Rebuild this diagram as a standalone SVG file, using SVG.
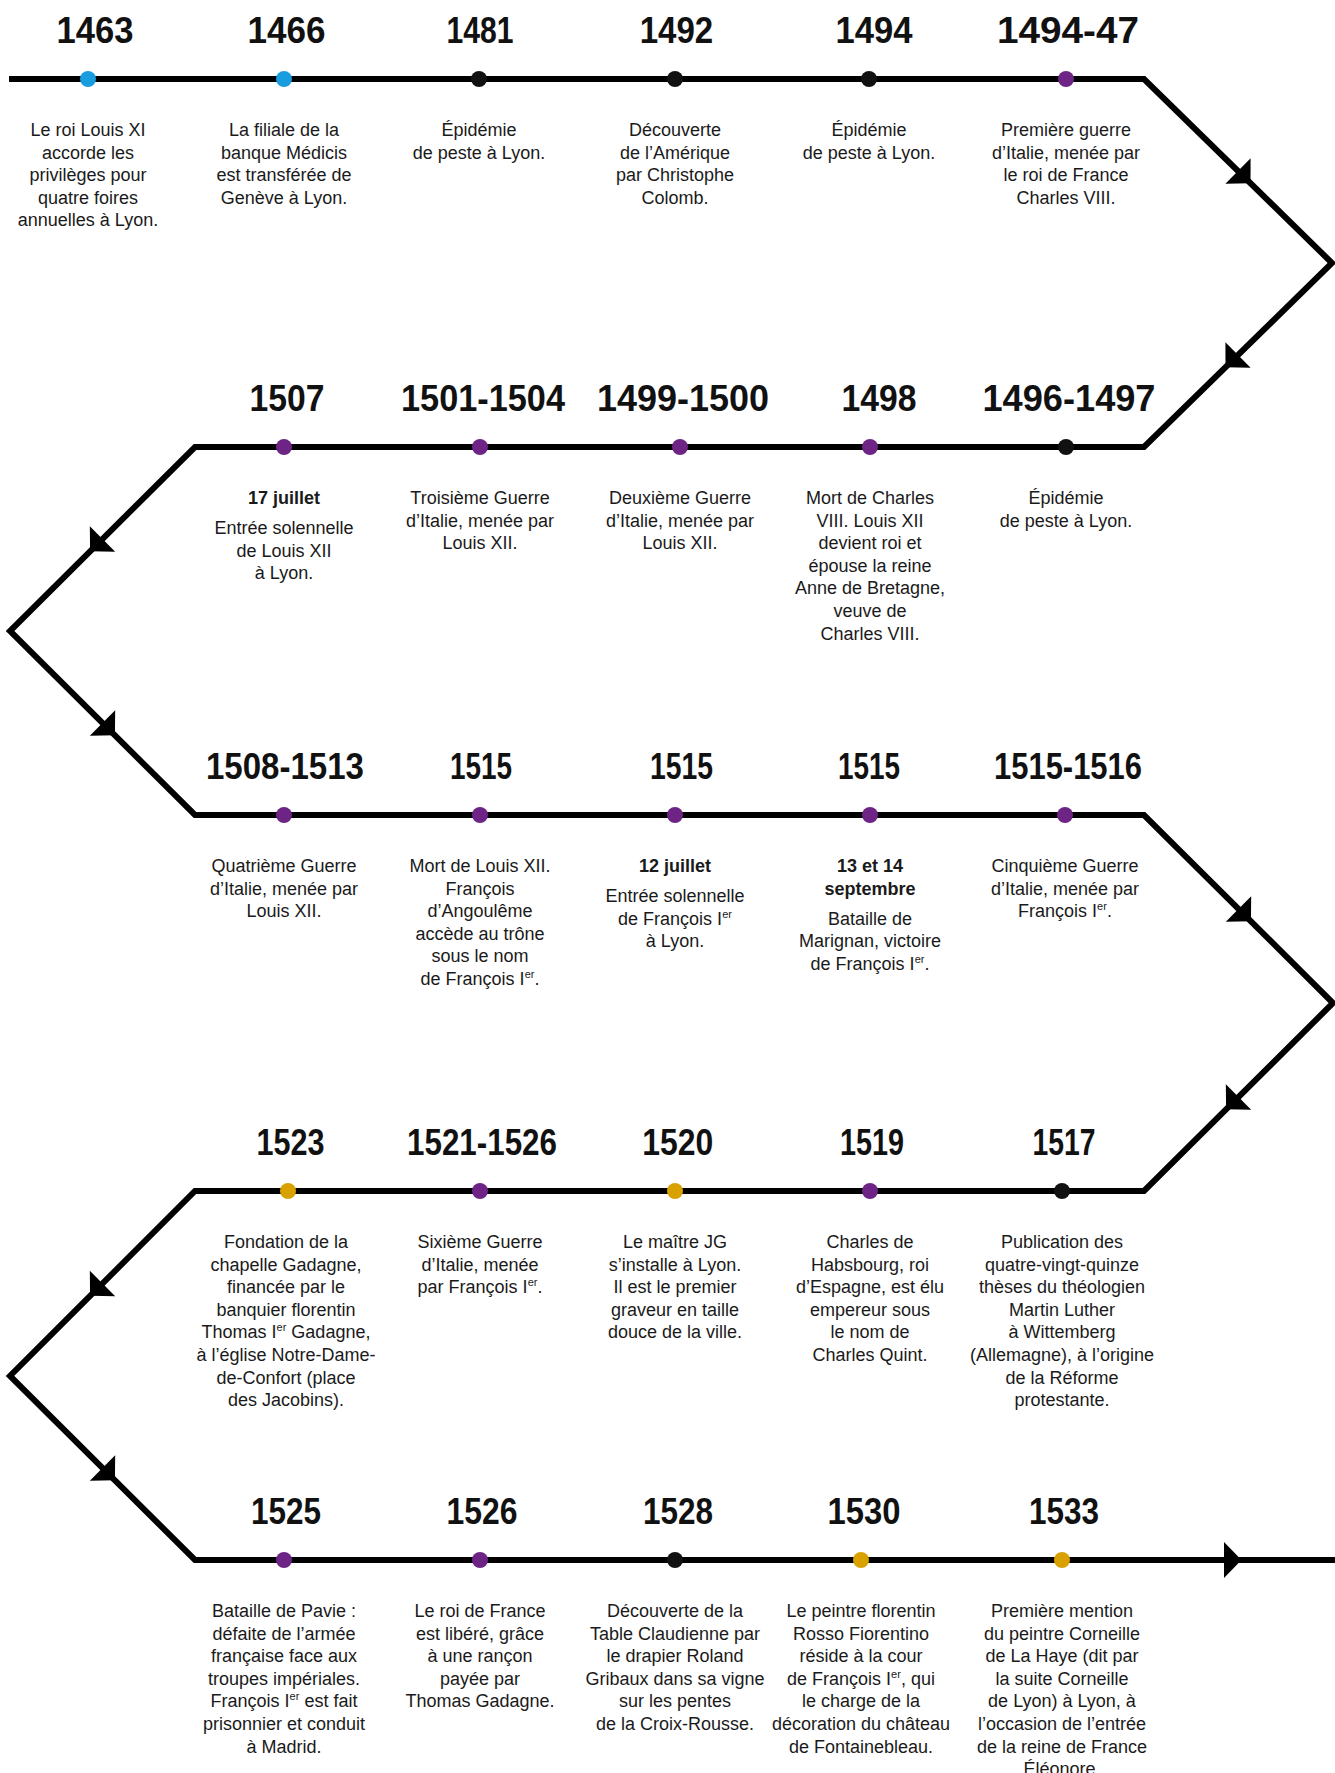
<svg xmlns="http://www.w3.org/2000/svg" xmlns:xlink="http://www.w3.org/1999/xlink" width="1335" height="1773" viewBox="0 0 1335 1773">
<defs>
<style>
.yr{font-family:"Liberation Sans",Arial,sans-serif;font-weight:bold;font-size:37.5px;text-anchor:middle;fill:#111}
.tx{font-family:"Liberation Sans",Arial,sans-serif;font-size:18px;text-anchor:middle;fill:#1a1a1a}
.b{font-weight:bold}
.sup{font-size:11px}
.line{fill:none;stroke:#000;stroke-width:6;stroke-linejoin:miter}
.blue{fill:#1a9ddf}
.purple{fill:#6d2484}
.gold{fill:#d9a100}
.black{fill:#111}
.ah{fill:#000}
</style>
<path id="ah" d="M0,-18 L17.5,0 L0,18 Z"/>
</defs>
<rect width="1335" height="1773" fill="#fff"/>

<g id="connectors">
<path class="line" d="M9,79 H1144 L1332,263 L1144,447 H195 L10,631 L195,815 H1144 L1333,1003 L1144,1191 H195 L10,1376 L195,1560 H1335"/>
<use xlink:href="#ah" class="ah" transform="translate(1238,171) rotate(44.4)"/>
<use xlink:href="#ah" class="ah" transform="translate(1238,355) rotate(135.6)"/>
<use xlink:href="#ah" class="ah" transform="translate(102.5,539) rotate(135.2)"/>
<use xlink:href="#ah" class="ah" transform="translate(102.5,723) rotate(44.8)"/>
<use xlink:href="#ah" class="ah" transform="translate(1238.5,909) rotate(44.8)"/>
<use xlink:href="#ah" class="ah" transform="translate(1238.5,1097) rotate(135.2)"/>
<use xlink:href="#ah" class="ah" transform="translate(102.5,1283.5) rotate(135.2)"/>
<use xlink:href="#ah" class="ah" transform="translate(102.5,1468) rotate(44.8)"/>
<use xlink:href="#ah" class="ah" transform="translate(1224,1560)"/>
</g>

<!-- Row 1 -->
<g id="n1463">
<circle class="blue" cx="88" cy="79" r="8"/>
<text class="yr" x="95" y="43" textLength="77" lengthAdjust="spacingAndGlyphs">1463</text>
<text class="tx" x="88" y="136">Le roi Louis XI</text>
<text class="tx" x="88" y="158.6">accorde les</text>
<text class="tx" x="88" y="181.2">privilèges pour</text>
<text class="tx" x="88" y="203.8">quatre foires</text>
<text class="tx" x="88" y="226.4">annuelles à Lyon.</text>
</g>
<g id="n1466">
<circle class="blue" cx="284" cy="79" r="8"/>
<text class="yr" x="286.6" y="43" textLength="78" lengthAdjust="spacingAndGlyphs">1466</text>
<text class="tx" x="284" y="136">La filiale de la</text>
<text class="tx" x="284" y="158.6">banque Médicis</text>
<text class="tx" x="284" y="181.2">est transférée de</text>
<text class="tx" x="284" y="203.8">Genève à Lyon.</text>
</g>
<g id="n1481">
<circle class="black" cx="479" cy="79" r="8"/>
<text class="yr" x="480" y="43" textLength="67" lengthAdjust="spacingAndGlyphs">1481</text>
<text class="tx" x="479" y="136">Épidémie</text>
<text class="tx" x="479" y="158.6">de peste à Lyon.</text>
</g>
<g id="n1492">
<circle class="black" cx="675" cy="79" r="8"/>
<text class="yr" x="676.5" y="43" textLength="73.5" lengthAdjust="spacingAndGlyphs">1492</text>
<text class="tx" x="675" y="136">Découverte</text>
<text class="tx" x="675" y="158.6">de l’Amérique</text>
<text class="tx" x="675" y="181.2">par Christophe</text>
<text class="tx" x="675" y="203.8">Colomb.</text>
</g>
<g id="n1494">
<circle class="black" cx="869" cy="79" r="8"/>
<text class="yr" x="874" y="43" textLength="77" lengthAdjust="spacingAndGlyphs">1494</text>
<text class="tx" x="869" y="136">Épidémie</text>
<text class="tx" x="869" y="158.6">de peste à Lyon.</text>
</g>
<g id="n1494-47">
<circle class="purple" cx="1066" cy="79" r="8"/>
<text class="yr" x="1068" y="43" textLength="142" lengthAdjust="spacingAndGlyphs">1494-47</text>
<text class="tx" x="1066" y="136">Première guerre</text>
<text class="tx" x="1066" y="158.6">d’Italie, menée par</text>
<text class="tx" x="1066" y="181.2">le roi de France</text>
<text class="tx" x="1066" y="203.8">Charles VIII.</text>
</g>

<!-- Row 2 -->
<g id="n1507">
<circle class="purple" cx="284" cy="447" r="8"/>
<text class="yr" x="287" y="411" textLength="75" lengthAdjust="spacingAndGlyphs">1507</text>
<text class="tx b" x="284" y="504">17 juillet</text>
<text class="tx" x="284" y="534">Entrée solennelle</text>
<text class="tx" x="284" y="556.6">de Louis XII</text>
<text class="tx" x="284" y="579.2">à Lyon.</text>
</g>
<g id="n1501-1504">
<circle class="purple" cx="480" cy="447" r="8"/>
<text class="yr" x="483" y="411" textLength="164" lengthAdjust="spacingAndGlyphs">1501-1504</text>
<text class="tx" x="480" y="504">Troisième Guerre</text>
<text class="tx" x="480" y="526.6">d’Italie, menée par</text>
<text class="tx" x="480" y="549.2">Louis XII.</text>
</g>
<g id="n1499-1500">
<circle class="purple" cx="680" cy="447" r="8"/>
<text class="yr" x="683" y="411" textLength="172" lengthAdjust="spacingAndGlyphs">1499-1500</text>
<text class="tx" x="680" y="504">Deuxième Guerre</text>
<text class="tx" x="680" y="526.6">d’Italie, menée par</text>
<text class="tx" x="680" y="549.2">Louis XII.</text>
</g>
<g id="n1498">
<circle class="purple" cx="870" cy="447" r="8"/>
<text class="yr" x="879" y="411" textLength="75" lengthAdjust="spacingAndGlyphs">1498</text>
<text class="tx" x="870" y="504">Mort de Charles</text>
<text class="tx" x="870" y="526.6">VIII. Louis XII</text>
<text class="tx" x="870" y="549.2">devient roi et</text>
<text class="tx" x="870" y="571.8">épouse la reine</text>
<text class="tx" x="870" y="594.4">Anne de Bretagne,</text>
<text class="tx" x="870" y="617">veuve de</text>
<text class="tx" x="870" y="639.6">Charles VIII.</text>
</g>
<g id="n1496-1497">
<circle class="black" cx="1066" cy="447" r="8"/>
<text class="yr" x="1069" y="411" textLength="173" lengthAdjust="spacingAndGlyphs">1496-1497</text>
<text class="tx" x="1066" y="504">Épidémie</text>
<text class="tx" x="1066" y="526.6">de peste à Lyon.</text>
</g>

<!-- Row 3 -->
<g id="n1508-1513">
<circle class="purple" cx="284" cy="815" r="8"/>
<text class="yr" x="285" y="779" textLength="158" lengthAdjust="spacingAndGlyphs">1508-1513</text>
<text class="tx" x="284" y="872">Quatrième Guerre</text>
<text class="tx" x="284" y="894.6">d’Italie, menée par</text>
<text class="tx" x="284" y="917.2">Louis XII.</text>
</g>
<g id="n1515a">
<circle class="purple" cx="480" cy="815" r="8"/>
<text class="yr" x="481" y="779" textLength="62" lengthAdjust="spacingAndGlyphs">1515</text>
<text class="tx" x="480" y="872">Mort de Louis XII.</text>
<text class="tx" x="480" y="894.6">François</text>
<text class="tx" x="480" y="917.2">d’Angoulême</text>
<text class="tx" x="480" y="939.8">accède au trône</text>
<text class="tx" x="480" y="962.4">sous le nom</text>
<text class="tx" x="480" y="985">de François I<tspan class="sup" dy="-7">er</tspan><tspan dy="7">.</tspan></text>
</g>
<g id="n1515b">
<circle class="purple" cx="675" cy="815" r="8"/>
<text class="yr" x="681.6" y="779" textLength="63" lengthAdjust="spacingAndGlyphs">1515</text>
<text class="tx b" x="675" y="872">12 juillet</text>
<text class="tx" x="675" y="902">Entrée solennelle</text>
<text class="tx" x="675" y="924.6">de François I<tspan class="sup" dy="-7">er</tspan></text>
<text class="tx" x="675" y="947.2">à Lyon.</text>
</g>
<g id="n1515c">
<circle class="purple" cx="870" cy="815" r="8"/>
<text class="yr" x="869" y="779" textLength="62" lengthAdjust="spacingAndGlyphs">1515</text>
<text class="tx b" x="870" y="872">13 et 14</text>
<text class="tx b" x="870" y="894.6">septembre</text>
<text class="tx" x="870" y="924.6">Bataille de</text>
<text class="tx" x="870" y="947.2">Marignan, victoire</text>
<text class="tx" x="870" y="969.8">de François I<tspan class="sup" dy="-7">er</tspan><tspan dy="7">.</tspan></text>
</g>
<g id="n1515-1516">
<circle class="purple" cx="1065" cy="815" r="8"/>
<text class="yr" x="1068" y="779" textLength="148" lengthAdjust="spacingAndGlyphs">1515-1516</text>
<text class="tx" x="1065" y="872">Cinquième Guerre</text>
<text class="tx" x="1065" y="894.6">d’Italie, menée par</text>
<text class="tx" x="1065" y="917.2">François I<tspan class="sup" dy="-7">er</tspan><tspan dy="7">.</tspan></text>
</g>

<!-- Row 4 -->
<g id="n1523">
<circle class="gold" cx="288" cy="1191" r="8"/>
<text class="yr" x="290.5" y="1155" textLength="68" lengthAdjust="spacingAndGlyphs">1523</text>
<text class="tx" x="286" y="1248">Fondation de la</text>
<text class="tx" x="286" y="1270.6">chapelle Gadagne,</text>
<text class="tx" x="286" y="1293.2">financée par le</text>
<text class="tx" x="286" y="1315.8">banquier florentin</text>
<text class="tx" x="286" y="1338.4">Thomas I<tspan class="sup" dy="-7">er</tspan><tspan dy="7"> Gadagne,</tspan></text>
<text class="tx" x="286" y="1361">à l’église Notre-Dame-</text>
<text class="tx" x="286" y="1383.6">de-Confort (place</text>
<text class="tx" x="286" y="1406.2">des Jacobins).</text>
</g>
<g id="n1521-1526">
<circle class="purple" cx="480" cy="1191" r="8"/>
<text class="yr" x="482" y="1155" textLength="150" lengthAdjust="spacingAndGlyphs">1521-1526</text>
<text class="tx" x="480" y="1248">Sixième Guerre</text>
<text class="tx" x="480" y="1270.6">d’Italie, menée</text>
<text class="tx" x="480" y="1293.2">par François I<tspan class="sup" dy="-7">er</tspan><tspan dy="7">.</tspan></text>
</g>
<g id="n1520">
<circle class="gold" cx="675" cy="1191" r="8"/>
<text class="yr" x="677.7" y="1155" textLength="71" lengthAdjust="spacingAndGlyphs">1520</text>
<text class="tx" x="675" y="1248">Le maître JG</text>
<text class="tx" x="675" y="1270.6">s’installe à Lyon.</text>
<text class="tx" x="675" y="1293.2">Il est le premier</text>
<text class="tx" x="675" y="1315.8">graveur en taille</text>
<text class="tx" x="675" y="1338.4">douce de la ville.</text>
</g>
<g id="n1519">
<circle class="purple" cx="870" cy="1191" r="8"/>
<text class="yr" x="872" y="1155" textLength="64" lengthAdjust="spacingAndGlyphs">1519</text>
<text class="tx" x="870" y="1248">Charles de</text>
<text class="tx" x="870" y="1270.6">Habsbourg, roi</text>
<text class="tx" x="870" y="1293.2">d’Espagne, est élu</text>
<text class="tx" x="870" y="1315.8">empereur sous</text>
<text class="tx" x="870" y="1338.4">le nom de</text>
<text class="tx" x="870" y="1361">Charles Quint.</text>
</g>
<g id="n1517">
<circle class="black" cx="1062" cy="1191" r="8"/>
<text class="yr" x="1064" y="1155" textLength="63" lengthAdjust="spacingAndGlyphs">1517</text>
<text class="tx" x="1062" y="1248">Publication des</text>
<text class="tx" x="1062" y="1270.6">quatre-vingt-quinze</text>
<text class="tx" x="1062" y="1293.2">thèses du théologien</text>
<text class="tx" x="1062" y="1315.8">Martin Luther</text>
<text class="tx" x="1062" y="1338.4">à Wittemberg</text>
<text class="tx" x="1062" y="1361">(Allemagne), à l’origine</text>
<text class="tx" x="1062" y="1383.6">de la Réforme</text>
<text class="tx" x="1062" y="1406.2">protestante.</text>
</g>

<!-- Row 5 -->
<g id="n1525">
<circle class="purple" cx="284" cy="1560" r="8"/>
<text class="yr" x="286" y="1524" textLength="70" lengthAdjust="spacingAndGlyphs">1525</text>
<text class="tx" x="284" y="1617">Bataille de Pavie :</text>
<text class="tx" x="284" y="1639.6">défaite de l’armée</text>
<text class="tx" x="284" y="1662.2">française face aux</text>
<text class="tx" x="284" y="1684.8">troupes impériales.</text>
<text class="tx" x="284" y="1707.4">François I<tspan class="sup" dy="-7">er</tspan><tspan dy="7"> est fait</tspan></text>
<text class="tx" x="284" y="1730">prisonnier et conduit</text>
<text class="tx" x="284" y="1752.6">à Madrid.</text>
</g>
<g id="n1526">
<circle class="purple" cx="480" cy="1560" r="8"/>
<text class="yr" x="482" y="1524" textLength="71" lengthAdjust="spacingAndGlyphs">1526</text>
<text class="tx" x="480" y="1617">Le roi de France</text>
<text class="tx" x="480" y="1639.6">est libéré, grâce</text>
<text class="tx" x="480" y="1662.2">à une rançon</text>
<text class="tx" x="480" y="1684.8">payée par</text>
<text class="tx" x="480" y="1707.4">Thomas Gadagne.</text>
</g>
<g id="n1528">
<circle class="black" cx="675" cy="1560" r="8"/>
<text class="yr" x="678" y="1524" textLength="70" lengthAdjust="spacingAndGlyphs">1528</text>
<text class="tx" x="675" y="1617">Découverte de la</text>
<text class="tx" x="675" y="1639.6">Table Claudienne par</text>
<text class="tx" x="675" y="1662.2">le drapier Roland</text>
<text class="tx" x="675" y="1684.8">Gribaux dans sa vigne</text>
<text class="tx" x="675" y="1707.4">sur les pentes</text>
<text class="tx" x="675" y="1730">de la Croix-Rousse.</text>
</g>
<g id="n1530">
<circle class="gold" cx="861" cy="1560" r="8"/>
<text class="yr" x="864" y="1524" textLength="73" lengthAdjust="spacingAndGlyphs">1530</text>
<text class="tx" x="861" y="1617">Le peintre florentin</text>
<text class="tx" x="861" y="1639.6">Rosso Fiorentino</text>
<text class="tx" x="861" y="1662.2">réside à la cour</text>
<text class="tx" x="861" y="1684.8">de François I<tspan class="sup" dy="-7">er</tspan><tspan dy="7">, qui</tspan></text>
<text class="tx" x="861" y="1707.4">le charge de la</text>
<text class="tx" x="861" y="1730">décoration du château</text>
<text class="tx" x="861" y="1752.6">de Fontainebleau.</text>
</g>
<g id="n1533">
<circle class="gold" cx="1062" cy="1560" r="8"/>
<text class="yr" x="1064" y="1524" textLength="70" lengthAdjust="spacingAndGlyphs">1533</text>
<text class="tx" x="1062" y="1617">Première mention</text>
<text class="tx" x="1062" y="1639.6">du peintre Corneille</text>
<text class="tx" x="1062" y="1662.2">de La Haye (dit par</text>
<text class="tx" x="1062" y="1684.8">la suite Corneille</text>
<text class="tx" x="1062" y="1707.4">de Lyon) à Lyon, à</text>
<text class="tx" x="1062" y="1730">l’occasion de l’entrée</text>
<text class="tx" x="1062" y="1752.6">de la reine de France</text>
<text class="tx" x="1062" y="1775.2">Éléonore.</text>
</g>
</svg>
